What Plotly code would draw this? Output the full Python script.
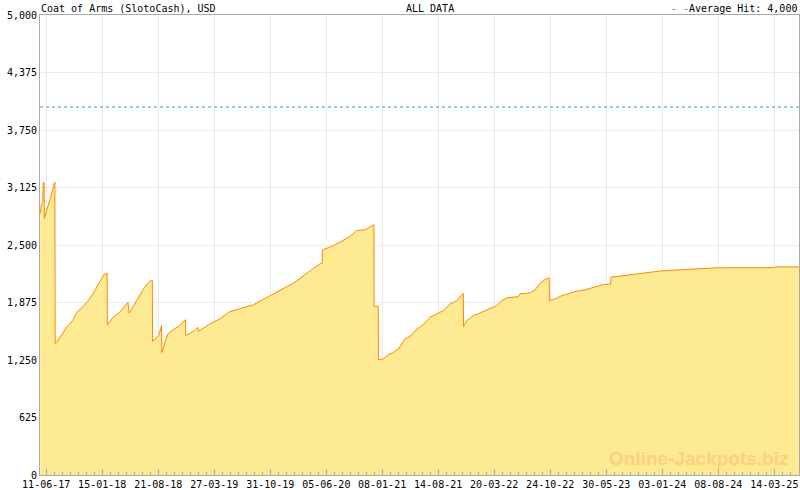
import plotly.graph_objects as go

# jackpot history
dates = [
    "2017-05-19", "2017-05-24", "2017-05-29", "2017-05-30", "2017-06-03", "2017-06-04",
    "2017-06-25", "2017-07-15", "2017-07-16", "2017-07-21", "2017-08-28", "2017-09-22",
    "2017-10-09", "2017-10-26", "2017-11-17", "2017-12-10", "2018-01-01", "2018-01-21",
    "2018-02-03", "2018-02-04", "2018-02-26", "2018-03-24", "2018-04-25", "2018-04-30",
    "2018-06-29", "2018-07-19", "2018-07-29", "2018-07-30", "2018-08-23", "2018-09-03",
    "2018-09-04", "2018-09-12", "2018-09-27", "2018-10-17", "2018-11-12", "2018-12-05",
    "2018-12-06", "2019-01-09", "2019-01-22", "2019-01-24", "2019-03-09", "2019-04-17",
    "2019-05-26", "2019-08-25", "2019-10-29", "2020-01-28", "2020-05-11", "2020-05-20",
    "2020-05-21", "2020-06-19", "2020-07-28", "2020-09-05", "2020-10-01", "2020-11-02",
    "2020-11-21", "2020-12-07", "2020-12-08", "2020-12-24", "2020-12-25", "2021-01-12",
    "2021-02-01", "2021-02-20", "2021-03-12", "2021-04-07", "2021-05-03", "2021-05-24",
    "2021-06-17", "2021-07-13", "2021-08-08", "2021-09-03", "2021-09-29", "2021-10-25",
    "2021-11-20", "2021-11-21", "2021-12-03", "2021-12-29", "2022-01-24", "2022-03-03",
    "2022-03-30", "2022-04-18", "2022-05-08", "2022-06-22", "2022-06-28", "2022-08-06",
    "2022-08-26", "2022-09-14", "2022-10-04", "2022-10-20", "2022-10-21", "2022-11-12",
    "2022-12-08", "2023-01-09", "2023-01-28", "2023-03-08", "2023-04-10", "2023-05-19",
    "2023-06-16", "2023-06-18", "2023-07-23", "2023-09-06", "2023-10-15", "2023-12-07",
    "2024-01-14", "2024-03-13", "2024-06-05", "2024-08-02", "2025-03-14", "2025-03-18",
    "2025-06-18",
]
values = [
    2846, 2950, 2960, 3175, 3180, 2790,
    2990, 3185, 1424, 1440, 1600, 1680,
    1768, 1812, 1877, 1968, 2077, 2175,
    2193, 1631, 1714, 1768, 1877, 1760,
    2040, 2106, 2113, 1452, 1514, 1623,
    1332, 1405, 1533, 1576, 1623, 1688,
    1514, 1569, 1605, 1561, 1641, 1696,
    1776, 1848, 1950, 2084, 2295, 2300,
    2448, 2476, 2531, 2593, 2658, 2665,
    2694, 2720, 1833, 1833, 1253, 1260,
    1307, 1332, 1369, 1478, 1522, 1587,
    1634, 1714, 1750, 1786, 1859, 1895,
    1975, 1612, 1678, 1732, 1761, 1805,
    1841, 1895, 1925, 1939, 1968, 1979,
    2012, 2084, 2124, 2142, 1895, 1913,
    1950, 1975, 1993, 2012, 2040, 2070,
    2077, 2152, 2162, 2179, 2197, 2211,
    2222, 2230, 2240, 2252, 2254, 2262,
    2262,
]

AVERAGE_HIT = 4000
tick_dates = [
    "2017-06-11", "2018-01-15", "2018-08-21", "2019-03-27", "2019-10-31",
    "2020-06-05", "2021-01-08", "2021-08-14", "2022-03-20", "2022-10-24",
    "2023-05-30", "2024-01-03", "2024-08-08", "2025-03-14",
]
y_ticks = [0, 625, 1250, 1875, 2500, 3125, 3750, 4375, 5000]

MONO = "DejaVu Sans Mono"
BLUE = "#2a9fd6"
DAY_MS = 86400000

fig = go.Figure()
fig.add_trace(go.Scatter(
    x=dates, y=values, mode="lines",
    line=dict(color="#ff8800", width=1),
    fill="tozeroy", fillcolor="#ffea94",
    hoverinfo="x+y", showlegend=False,
))

fig.add_shape(
    type="line", xref="paper", x0=0, x1=1, yref="y", y0=AVERAGE_HIT, y1=AVERAGE_HIT,
    line=dict(color=BLUE, width=1, dash="3px,3px"),
)

fig.add_annotation(
    text="Coat of Arms (SlotoCash), USD", xref="paper", yref="paper",
    x=0, y=1, xanchor="left", yanchor="bottom", xshift=-1, yshift=-1,
    showarrow=False, font=dict(family=MONO, size=10, color="#000"),
)
fig.add_annotation(
    text="ALL DATA", xref="paper", yref="paper",
    x=0.514, y=1, xanchor="center", yanchor="bottom", yshift=-1,
    showarrow=False, font=dict(family=MONO, size=10, color="#000"),
)
fig.add_annotation(
    text=f"<span style='color:{BLUE}'>- -</span>Average Hit: {AVERAGE_HIT:,}",
    xref="paper", yref="paper", x=1, y=1, xanchor="right", yanchor="bottom", yshift=-1,
    showarrow=False, font=dict(family=MONO, size=10, color="#000"),
)
fig.add_annotation(
    text="<b>Online-Jackpots.biz</b>", xref="paper", yref="paper",
    x=0.988, y=0.035, xanchor="right", yanchor="middle",
    showarrow=False, font=dict(family="Liberation Sans", size=19, color="#fdd07a"),
)

fig.update_xaxes(
    type="date", range=["2017-05-18", "2025-06-18"],
    tickvals=tick_dates, tickformat="%d-%m-%y",
    ticks="inside", ticklen=6, tickcolor="#aaaaaa",
    minor=dict(ticks="inside", ticklen=3, tickcolor="#aaaaaa",
               tick0="2017-06-11", dtick=218 / 7 * DAY_MS, showgrid=False),
    showgrid=True, gridcolor="#ebebeb", gridwidth=1,
    showline=True, linecolor="#aaaaaa", linewidth=1, mirror=True,
    tickfont=dict(family=MONO, size=10, color="#000"),
    zeroline=False,
)
fig.update_yaxes(
    range=[0, 5000], tickvals=y_ticks, tickformat=",",
    showgrid=True, gridcolor="#ebebeb", gridwidth=1,
    showline=True, linecolor="#aaaaaa", linewidth=1, mirror=True,
    ticks="", tickfont=dict(family=MONO, size=10, color="#000"),
    zeroline=False,
)

fig.update_layout(
    width=800, height=490,
    margin=dict(l=40, r=1, t=15, b=15),
    paper_bgcolor="white", plot_bgcolor="white",
    showlegend=False,
)

# the page body has an 8px default margin; drop it so the 800x490 figure fits the window
fig.write_html("out.html", config={"displayModeBar": False},
               post_script="document.body.style.margin='0';")
